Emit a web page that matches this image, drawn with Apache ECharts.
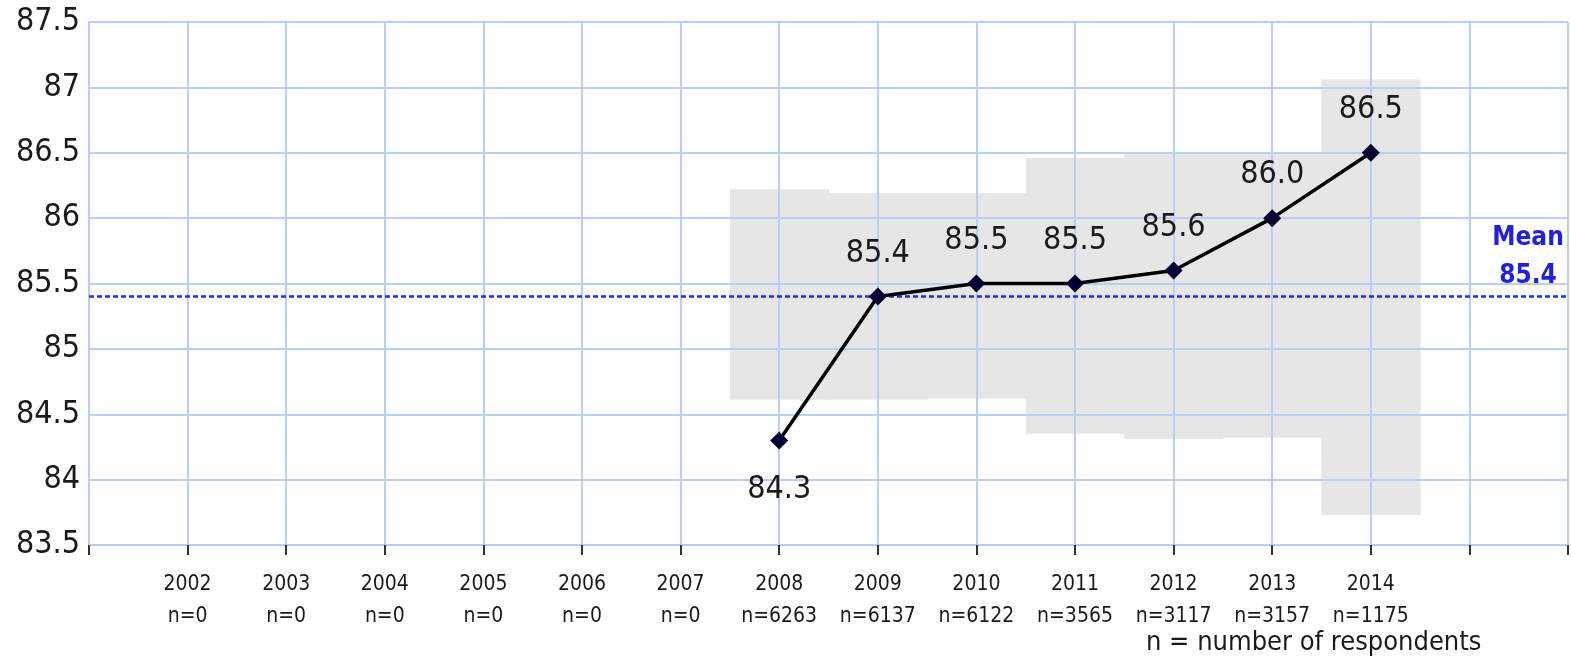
<!DOCTYPE html>
<html>
<head>
<meta charset="utf-8">
<script src="https://cdn.jsdelivr.net/npm/echarts@6/dist/echarts.min.js"></script>
<style>html,body{margin:0;padding:0;background:#fff}#chart{width:1571px;height:662px}</style>
</head>
<body>
<div id="chart"></div>
<script>
const years = [2002, 2003, 2004, 2005, 2006, 2007, 2008, 2009, 2010, 2011, 2012, 2013, 2014];
const respondents = [0, 0, 0, 0, 0, 0, 6263, 6137, 6122, 3565, 3117, 3157, 1175];
const scoreYears = [2008, 2009, 2010, 2011, 2012, 2013, 2014];
const scores = [84.3, 85.4, 85.5, 85.5, 85.6, 86.0, 86.5];
const ciLow = [84.61, 84.61, 84.62, 84.35, 84.31, 84.32, 83.73];
const ciHigh = [86.22, 86.19, 86.19, 86.46, 86.49, 86.49, 87.06];
const meanScore = 85.4;
const footnote = 'n = number of respondents';

const FONT = "'DejaVu Sans Condensed', 'DejaVu Sans', sans-serif";
const GRID = '#b9cef7';

const chart = echarts.init(document.getElementById('chart'), null, {renderer: 'canvas'});
chart.setOption({
  animation: false,
  title: {
    text: footnote, left: 1141, top: 624,
    textStyle: {fontFamily: FONT, fontSize: 27, fontWeight: 'normal', color: '#1a1a1a'}
  },
  grid: {left: 89, right: 0, top: 22, bottom: 117, containLabel: false},
  xAxis: {
    type: 'value', min: 2001, max: 2016, interval: 1,
    axisLine: {show: true, lineStyle: {color: GRID, width: 2}},
    axisTick: {show: true, length: 10, lineStyle: {color: '#333', width: 2}},
    splitLine: {show: true, lineStyle: {color: GRID, width: 2}},
    axisLabel: {
      margin: 24, fontFamily: FONT, fontSize: 21, color: '#1a1a1a', lineHeight: 32,
      formatter: v => { const i = years.indexOf(v); return i < 0 ? '' : years[i] + '\nn=' + respondents[i]; }
    }
  },
  yAxis: {
    type: 'value', min: 83.5, max: 87.5, interval: 0.5,
    axisLine: {show: true, lineStyle: {color: GRID, width: 2}},
    axisTick: {show: false},
    splitLine: {show: true, lineStyle: {color: GRID, width: 2}},
    axisLabel: {margin: 9, fontFamily: FONT, fontSize: 32, color: '#1a1a1a'}
  },
  series: [
    {
      type: 'custom', z: -1, silent: true,
      data: scoreYears.map((y, i) => [y, ciLow[i], ciHigh[i]]),
      renderItem: (params, api) => {
        const x = api.value(0), lo = api.value(1), hi = api.value(2);
        const p1 = api.coord([x - 0.5, hi]);
        const p2 = api.coord([x + 0.5, lo]);
        return {type: 'rect', shape: {x: p1[0], y: p1[1], width: p2[0] - p1[0] + 0.5, height: p2[1] - p1[1]}, style: {fill: '#e6e6e6'}};
      }
    },
    {
      type: 'line', z: 5,
      data: scoreYears.map((y, i) => ({
        value: [y, scores[i]],
        label: i === 0 ? {position: 'bottom', distance: 24} : {position: 'top', distance: 18}
      })),
      smooth: false,
      lineStyle: {color: '#000', width: 3.5},
      symbol: 'diamond', symbolSize: 18,
      itemStyle: {color: '#000033'},
      label: {
        show: true, fontFamily: FONT, fontSize: 32, color: '#1a1a1a',
        formatter: p => p.value[1].toFixed(1)
      },
      markLine: {
        silent: true, symbol: 'none',
        lineStyle: {color: '#2a2ae6', type: [5, 3], width: 2.5},
        label: {
          show: true, position: 'insideEndTop', distance: [40, 1],
          fontFamily: FONT, fontSize: 26, fontWeight: 'bold', color: '#2020e0', lineHeight: 38, align: 'center',
          formatter: 'Mean\n' + meanScore.toFixed(1)
        },
        data: [{yAxis: meanScore}]
      }
    }
  ]
});
</script>
</body>
</html>
